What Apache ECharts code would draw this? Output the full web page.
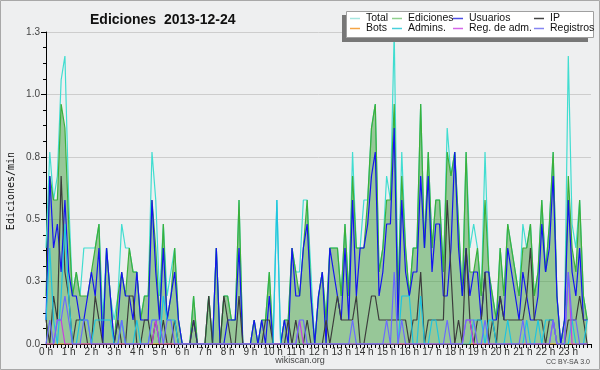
<!DOCTYPE html>
<html><head><meta charset="utf-8">
<script src="https://cdn.jsdelivr.net/npm/echarts@6/dist/echarts.min.js"></script>
<style>html,body{margin:0;padding:0;background:#eeeff0}#c{width:600px;height:370px}</style>
</head><body><div id="c"></div>
<script>
const hourLabels = ['0 h','1 h','2 h','3 h','4 h','5 h','6 h','7 h','8 h','9 h','10 h','11 h','12 h','13 h','14 h','15 h','16 h','17 h','18 h','19 h','20 h','21 h','22 h','23 h'];
const yTickLabels = ['0.0','0.3','0.5','0.8','1.0','1.3'];

// edits per minute, one value per 10-minute slot (144 slots)
const total = [
 .4,.8,.6,.7,1.1,1.2, .6,.2,.3,.2,.4,.4, .4,.4,.5,.1,.4,.2, .1,.2,.5,.4,.4,.3,
 .3,.1,.2,.2,.8,.6, .2,.5,.2,.3,.4,.1, 0,0,0,.2,0,0, 0,.2,0,.4,0,.2,
 .2,.1,.1,.6,0,0, 0,.1,0,.1,.1,.3, 0,.6,0,.1,.1,.4, .3,.3,.6,.6,.3,0,
 .2,.3,.1,.4,.4,.4, .2,.5,.2,.8,.4,.4, .6,.6,.9,1,.3,.4, .7,.6,1.3,.2,.8,.4,
 .2,.4,.4,1,.4,.8, .4,.6,.6,.3,.9,.7, .8,.5,.2,.8,.4,.5, .4,.2,.8,.3,.2,.1,
 .4,.2,.5,.4,.3,.2, .5,.4,.5,.2,.3,.6, .3,.5,.8,.2,0,.1, 1.2,.5,.4,.6,.2,.1
];
const ediciones = [
 .2,.7,.6,.6,1,.9, .5,.2,.3,.2,.2,.2, .3,.4,.5,0,.4,.2, 0,.2,.3,.2,.4,.3,
 .3,.1,.2,.2,.6,.4, .1,.5,.1,.2,.4,.1, 0,0,0,.2,0,0, 0,.2,0,.4,0,.2,
 .2,.1,.1,.6,0,0, 0,.1,0,.1,.1,.3, 0,0,0,.1,.1,.4, .3,.2,.4,.6,.2,0,
 .2,.3,.1,.4,.4,.4, .2,.5,.2,.7,.4,.4, .4,.6,.9,1,.3,.4, .6,.6,1,.2,.7,.4,
 .2,.4,.4,1,.4,.8, .4,.6,.6,.3,.8,.7, .8,.5,.2,.8,.3,.3, .4,.2,.6,.3,.2,.1,
 .4,.2,.5,.4,.3,.2, .4,.4,.5,.2,.3,.6, .3,.5,.8,.2,0,.1, .7,.4,.3,.6,.2,.1
];
const usuarios = [
 .1,.7,.4,.5,.3,.6, .3,.2,.2,.1,.1,.2, .3,.2,.4,0,.4,.2, 0,.1,.3,.2,.2,.1,
 .3,.1,.1,.1,.6,.3, .1,.4,.1,.2,.3,.1, 0,0,0,.1,0,0, 0,0,0,.4,0,0,
 .1,.1,.1,.4,0,0, 0,.1,0,.1,0,.2, 0,0,0,.1,0,.4, .2,.2,.4,.5,.2,0,
 .2,.3,0,.4,.3,.2, .1,.4,.1,.6,.2,.4, .4,.5,.7,.8,.2,.3, .5,.5,.9,.1,.6,.3,
 .2,.3,.3,.7,.4,.7, .3,.5,.5,.2,.2,.4, .8,.4,.2,.4,.2,.3, .3,.1,.3,.3,.1,.1,
 .2,.1,.4,.3,.2,.1, .3,.2,.1,.1,.2,.5, .3,.4,.7,.2,0,.1, .6,.3,.2,.4,.1,.1
];
const ip = [
 .1,0,.2,.1,.7,.3, .2,0,.1,.1,.1,0, 0,.2,.1,0,0,0, 0,.1,0,0,.2,.2,
 0,0,.1,.1,0,.1, 0,.1,0,0,.1,0, 0,0,0,.1,0,0, 0,.2,0,0,0,.2,
 .1,0,0,.2,0,0, 0,0,0,0,.1,.1, 0,0,0,0,.1,0, .1,0,0,.1,0,0,
 0,0,.1,0,.1,.2, .1,.1,.1,.1,.2,0, 0,.1,.2,.2,.1,.1, .1,.1,.1,.1,.1,.1,
 0,.1,.1,.3,0,.1, .1,.1,.1,.1,.6,.3, 0,.1,0,.4,.1,0, .1,.1,.3,0,.1,0,
 .2,.1,.1,.1,.1,.1, .1,.2,.4,.1,.1,.1, 0,.1,.1,0,0,0, .1,.1,.1,.2,.1,0
];
const bots = [
 0,0,0,0,0,0, 0,0,0,0,0,0, 0,0,0,0,0,0, 0,0,0,0,0,0,
 0,0,0,0,0,0, 0,0,0,0,0,0, 0,0,0,0,0,0, 0,0,0,0,0,0,
 0,0,0,0,0,0, 0,0,0,0,0,0, 0,0,0,0,0,0, 0,0,0,0,0,0,
 0,0,0,0,0,0, 0,0,0,0,0,0, 0,0,0,0,0,0, 0,0,0,0,0,0,
 0,0,0,0,0,0, 0,0,0,0,0,0, 0,0,0,0,0,0, 0,0,0,0,0,0,
 0,0,0,0,0,0, 0,0,0,0,0,0, 0,0,0,0,0,0, 0,0,0,0,0,0
];
const admins = [
 .1,.4,.1,0,.2,.5, .2,0,0,.1,.1,.1, 0,.1,.1,.1,.1,.1, 0,0,.1,0,0,0,
 .1,0,0,0,.1,.1, 0,.2,.1,.1,.1,0, 0,0,0,0,0,0, 0,0,0,0,0,0,
 0,0,0,0,0,0, 0,0,0,0,0,0, 0,.6,0,0,0,0, 0,0,0,0,0,0,
 0,0,0,0,0,0, 0,0,0,0,0,0, 0,0,0,0,0,0, 0,0,0,0,.2,.2,
 .2,0,0,.2,0,0, .1,.1,0,0,0,0, 0,0,0,0,0,.1, .1,.1,0,.1,.1,0,
 0,0,.1,0,0,0, 0,.1,0,0,.1,0, .1,.1,.1,0,0,0, 0,.1,0,0,0,.1
];
const regAdm = [
 0,0,0,.1,.1,0, 0,0,0,0,0,0, 0,0,0,0,0,0, 0,0,0,0,0,0,
 0,0,0,0,0,.1, 0,0,0,0,0,0, 0,0,0,0,0,0, 0,0,0,0,0,0,
 0,0,0,0,0,0, 0,0,0,0,0,0, 0,0,0,0,0,0, 0,.1,0,0,0,0,
 0,0,0,0,0,0, 0,0,0,0,0,0, 0,0,0,0,0,0, 0,0,0,0,0,0,
 0,0,0,0,0,0, 0,0,0,0,0,0, 0,0,0,.1,.1,0, 0,0,0,0,0,0,
 0,0,0,0,0,0, 0,0,0,0,0,0, 0,0,.1,0,0,0, .3,0,0,0,0,0
];
const registros = [
 0,.1,0,.1,.1,.2, .1,0,0,0,.1,.1, 0,0,0,0,0,0, 0,0,.1,0,0,0,
 0,0,0,0,.1,.1, .1,0,.1,.1,0,0, 0,0,0,0,0,0, 0,0,0,0,0,0,
 0,0,0,0,0,0, 0,0,0,0,0,0, 0,0,0,0,0,0, 0,.1,.1,0,0,0,
 0,0,0,0,0,0, 0,0,0,.1,0,0, 0,0,0,0,0,0, .1,0,.3,0,.1,0,
 0,0,0,0,0,0, 0,0,0,0,.1,0, 0,0,0,.1,.1,.1, 0,0,.1,0,0,0,
 0,0,0,0,0,0, .1,0,0,0,0,0, 0,0,.1,0,0,0, .3,.1,.1,0,0,0
];

const seriesNames = ['Total','Ediciones','Usuarios','IP','Bots','Admins.','Reg. de adm.','Registros'];
const seriesColors = ['#40ddd0','#3bb03b','#1414f0','#3c3c3c','#ff9a30','#1ec4e0','#c83ee0','#6a6aff'];
const legendIconColors = ['#a6e6e0','#8fd08f','#4c4ce6','#444444','#f5a445','#48d0dc','#d466e8','#8585f2'];
const seriesData = [total, ediciones, usuarios, ip, bots, admins, regAdm, registros];

// 10-minute slot categories 0:00 .. 24:00
const slots = [];
for (let h = 0; h <= 24; h++) {
  for (let m = 0; m < 60; m += 10) {
    if (h === 24 && m > 0) break;
    slots.push(h + ':' + String(m).padStart(2, '0'));
  }
}

const FONT = 'Liberation Sans';
const chart = echarts.init(document.getElementById('c'), null, {renderer: 'canvas'});

const series = seriesNames.map((name, k) => {
  const s = {
    name: name, type: 'line', data: seriesData[k], showSymbol: false, symbol: 'none',
    lineStyle: {color: seriesColors[k], width: 1.2}, itemStyle: {color: seriesColors[k]},
    emphasis: {disabled: true}, silent: true, z: 2 + k
  };
  if (name === 'Ediciones') s.areaStyle = {color: '#40a040', opacity: 0.5};
  return s;
});

// legend: 4 columns x 2 rows
const colX = [350, 392, 453, 534];
const rowY = [13, 23];
const legends = seriesNames.map((name, k) => ({
  data: [{name: name, itemStyle: {color: legendIconColors[k]}}],
  left: colX[k % 4], top: rowY[Math.floor(k / 4)], padding: 0,
  icon: 'rect', itemWidth: 10, itemHeight: 1.5, itemGap: 0, selectedMode: false, z: 20,
  textStyle: {fontFamily: FONT, fontSize: 10.5, color: '#111', padding: [0, 0, 0, 1]}
}));

chart.setOption({
  backgroundColor: '#eeeff0',
  animation: false,
  title: {text: 'Ediciones  2013-12-24', left: 85, top: 8,
    textStyle: {fontFamily: FONT, fontWeight: 'bold', fontSize: 14, color: '#111'}},
  legend: legends,
  grid: {left: 46, right: 9, top: 32, bottom: 26, containLabel: false},
  xAxis: {
    type: 'category', data: slots, boundaryGap: false,
    axisLine: {lineStyle: {color: '#000', width: 1}},
    axisTick: {show: true, interval: 0, length: 4, lineStyle: {color: '#000'}},
    axisLabel: {
      interval: 0, margin: 3, fontFamily: FONT, fontSize: 10, color: '#333',
      formatter: (v, i) => (i % 6 === 0 && i / 6 < hourLabels.length) ? hourLabels[i / 6] : ''
    },
    splitLine: {show: false}
  },
  yAxis: {
    type: 'value', min: 0, max: 1.3, interval: 0.26,
    axisLine: {show: true, lineStyle: {color: '#000', width: 1}},
    axisTick: {show: true, length: 5, lineStyle: {color: '#000'}},
    minorTick: {show: true, splitNumber: 4, length: 3, lineStyle: {color: '#000'}},
    axisLabel: {margin: 6, fontFamily: FONT, fontSize: 10, color: '#444',
      formatter: v => yTickLabels[Math.round(v / 0.26)]},
    splitLine: {show: true, lineStyle: {color: '#cdcdcd', width: 1}}
  },
  series: series,
  graphic: [
    {type: 'rect', shape: {x: 0.5, y: 0.5, width: 599, height: 369}, style: {fill: 'none', stroke: '#a8a8a8', lineWidth: 1}, z: 0, silent: true},
    {type: 'rect', shape: {x: 342, y: 15, width: 246, height: 27}, style: {fill: '#777777'}, z: 10, silent: true},
    {type: 'rect', shape: {x: 346.5, y: 11.5, width: 247, height: 26}, style: {fill: '#ffffff', stroke: '#a0a0a0', lineWidth: 1}, z: 11, silent: true},
    {type: 'text', x: 11, y: 191, rotation: Math.PI / 2, z: 5, silent: true,
      style: {text: 'Ediciones/min', font: '10px "DejaVu Sans Mono"', fill: '#111', textAlign: 'center', textVerticalAlign: 'middle'}},
    {type: 'text', x: 300, y: 361, z: 5, silent: true,
      style: {text: 'wikiscan.org', font: '9px "Liberation Sans"', fill: '#444', textAlign: 'center', textVerticalAlign: 'middle'}},
    {type: 'text', x: 590, y: 362, z: 5, silent: true,
      style: {text: 'CC BY-SA 3.0', font: '7px "Liberation Sans"', fill: '#444', textAlign: 'right', textVerticalAlign: 'middle'}}
  ]
});
</script></body></html>
